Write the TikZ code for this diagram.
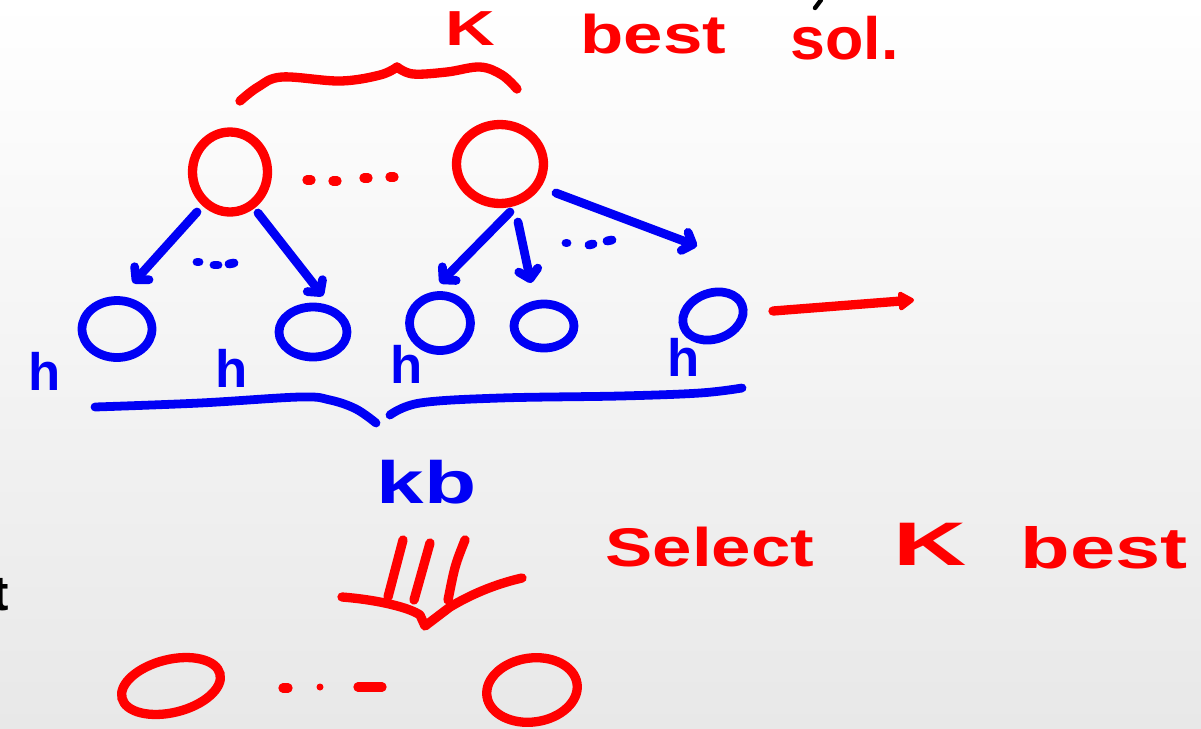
\documentclass[tikz,border=0pt]{standalone}
\usepackage{fontspec}
\setmainfont{Liberation Sans}
\usetikzlibrary{arrows.meta,shapes.geometric,calc}
\definecolor{penred}{RGB}{255,0,0}
\definecolor{penblue}{RGB}{0,0,245}
\begin{document}
\begin{tikzpicture}[x=0.02cm,y=-0.02cm,
  pen/.style={line width=5.3pt, line cap=round, line join=round},
  rpen/.style={pen, draw=penred},
  bpen/.style={pen, draw=penblue, line width=5pt},
  rloop/.style={ellipse, draw=penred, line width=5.3pt, inner sep=0pt},
  bloop/.style={ellipse, draw=penblue, line width=5pt, inner sep=0pt},
  barrow/.style={bpen, -{Straight Barb[length=5pt,width=11pt,round]}},
  rarrow/.style={rpen, -{Triangle[length=10pt,width=12pt,round]}},
  rtext/.style={text=penred, inner sep=0pt, anchor=base west},
  btext/.style={text=penblue, inner sep=0pt, anchor=base west},
  fs/.style={font=\bfseries\fontsize{#1}{#1}\selectfont}
]
\useasboundingbox (0,0) rectangle (1201,728);
\clip (0,0) rectangle (1201,728);
\shade[top color=white, bottom color=black!9] (0,0) rectangle (1201,728);

% top label and brace
\node[rtext, fs=28, xscale=1.4] (tK) at (445,45) {K};
\node[rtext, fs=31, xscale=1.3] (tbest) at (580,53) {best};
\node[rtext, fs=34, xscale=1.05] (tsol) at (790,59) {sol.};
\draw[line width=2.5pt, line cap=round] (821,0) -- (815,8);
\draw[rpen] plot[smooth, tension=0.6] coordinates {(240,101) (258,87) (282,77) (340,81) (380,75) (397,67)};
\draw[rpen] plot[smooth, tension=0.6] coordinates {(397,67) (413,74) (447,72) (480,67) (502,75) (517,89)};

% roots
\node[rloop, minimum width=1.50cm, minimum height=1.60cm] (r1) at (230,172) {};
\node[rloop, minimum width=1.74cm, minimum height=1.58cm] (r2) at (500,164) {};
\foreach \p in {(307,180),(333,181),(364,178),(390,177)} \draw[rpen] \p -- ++(4,0);

% children
\node[bloop, minimum width=1.40cm, minimum height=1.14cm] (c1) at (117,329) {};
\node[bloop, minimum width=1.36cm, minimum height=1.00cm] (c2) at (313,332) {};
\node[bloop, minimum width=1.22cm, minimum height=1.10cm] (c3) at (440,323) {};
\node[bloop, minimum width=1.20cm, minimum height=0.88cm] (c4) at (544,326) {};
\node[bloop, minimum width=1.24cm, minimum height=0.92cm, rotate=20] (c5) at (713,316) {};

\draw[barrow] ($(r1)+(-33,40)$) -- ($(c1)+(16,-46)$);
\draw[barrow] ($(r1)+(28,41)$) -- ($(c2)+(10,-36)$);
\draw[barrow] ($(r2)+(10,48)$) -- ($(c3)+(0,-40)$);
\draw[barrow] ($(r2)+(18,58)$) -- ($(c4)+(-13,-43)$);
\draw[barrow] ($(r2)+(56,29)$) -- ($(c5)+(-16,-70)$);
\coordinate (rtip) at (914,300);
\draw[rarrow] ($(c5)+(60,-5)$) -- (rtip);

\draw[bpen] (197,262) -- ++(2,0);
\draw[bpen] (214,265) -- ++(4,0);
\draw[bpen] (229,264) -- ++(5,-1);
\draw[bpen] (566,243) -- ++(1,0);
\draw[bpen] (589,245) -- ++(4,-1);
\draw[bpen] (607,241) -- ++(5,-1);

\node[btext, fs=30] (h1) at (28,390) {h};
\node[btext, fs=30] (h2) at (215,387) {h};
\node[btext, fs=30] (h3) at (390,383) {h};
\node[btext, fs=30] (h4) at (667,376) {h};

% bottom brace
\draw[bpen] plot[smooth, tension=0.6] coordinates {(95,407) (200,403) (300,397) (330,400) (356,409) (376,423)};
\draw[bpen] plot[smooth, tension=0.6] coordinates {(390,415) (420,403) (500,398) (620,396) (700,393) (742,388)};
\node[btext, fs=34, xscale=1.43] (kb) at (376,503) {kb};

% triple arrow
\draw[rpen] (403,540) -- (388,597);
\draw[rpen] (430,543) -- (414,600);
\draw[rpen] (465,540) .. controls (455,565) .. (448,600);
\draw[rpen] (342,597) .. controls (380,600) and (410,608) .. (420,615) -- (425,626) -- (450,607) .. controls (475,592) and (500,583) .. (522,578);

\node[rtext, fs=31, xscale=1.3] (sel) at (605,566) {Select};
\node[rtext, fs=35, xscale=1.65] (sK) at (893,565) {K};
\node[rtext, fs=33, xscale=1.4] (sbest) at (1020,568) {best};

% result
\node[rloop, minimum width=2.02cm, minimum height=1.06cm, rotate=14] (b1) at (171,686) {};
\node[rloop, minimum width=1.82cm, minimum height=1.28cm, rotate=8] (b2) at (532,690) {};
\draw[rpen] (283,688) -- ++(5,0);
\fill[penred] (320,687) circle (3.5);
\draw[rpen] (358,687) -- (382,687);

\node[fs=28, anchor=base east, inner sep=0pt] (tcut) at (9,610) {t};
\end{tikzpicture}
\end{document}
